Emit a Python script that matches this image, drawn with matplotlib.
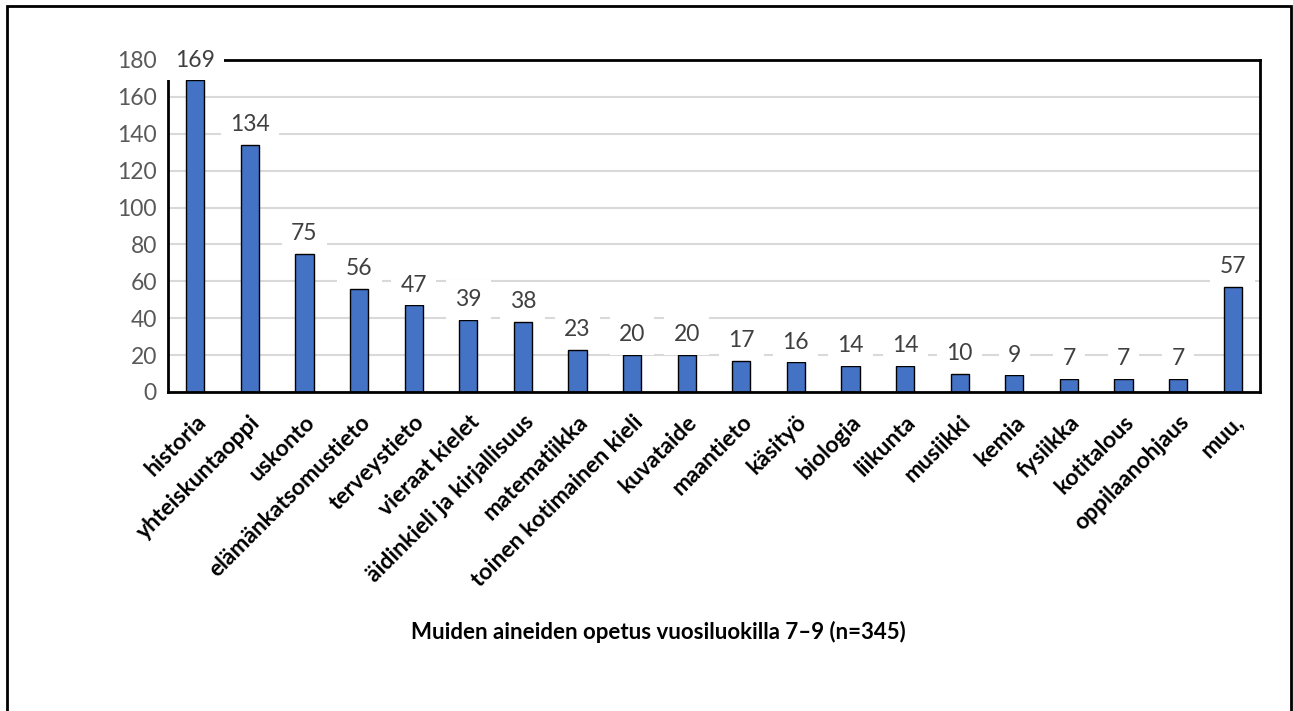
import matplotlib
matplotlib.use("Agg")
import matplotlib.pyplot as plt
from matplotlib.patches import Rectangle

categories = ["historia", "yhteiskuntaoppi", "uskonto", "elämänkatsomustieto", "terveystieto",
              "vieraat kielet", "äidinkieli ja kirjallisuus", "matematiikka", "toinen kotimainen kieli",
              "kuvataide", "maantieto", "käsityö", "biologia", "liikunta", "musiikki", "kemia",
              "fysiikka", "kotitalous", "oppilaanohjaus", "muu,"]
values = [169, 134, 75, 56, 47, 39, 38, 23, 20, 20, 17, 16, 14, 14, 10, 9, 7, 7, 7, 57]
yticks = [0, 20, 40, 60, 80, 100, 120, 140, 160, 180]
xlabel = "Muiden aineiden opetus vuosiluokilla 7–9 (n=345)"

plt.rcParams['font.family'] = ['Lato', 'DejaVu Sans']

W, H = 1293, 711
fig = plt.figure(figsize=(W / 100, H / 100), dpi=100)
fig.patch.set_facecolor("white")

# outer border
fig.add_artist(Rectangle((7 / W, -0.01), (1291 - 7) / W, (H - 6) / H + 0.01, transform=fig.transFigure,
                         fill=False, edgecolor="black", linewidth=2))

left, right, top, bottom = 168, 1260, 60, 392
ax = fig.add_axes([left / W, 1 - bottom / H, (right - left) / W, (bottom - top) / H])
x = list(range(len(categories)))
ax.bar(x, values, width=0.33, color="#4472C4", edgecolor="black", linewidth=1.0, zorder=3)
ax.set_xlim(-0.5, len(categories) - 0.5)
ax.set_ylim(0, 180)
ax.set_yticks(yticks)
ax.set_yticklabels([str(t) for t in yticks], fontsize=16.5, color="#595959")
ax.yaxis.grid(True, color="#D9D9D9", linewidth=1.5, zorder=0)
ax.set_axisbelow(True)
ax.tick_params(axis="both", length=0, pad=8)
for s in ax.spines.values():
    s.set_linewidth(2)
    s.set_color("black")
    s.set_zorder(5)
ax.set_xticks(x)
ax.set_xticklabels(categories, rotation=45, ha="right", rotation_mode="anchor",
                   fontsize=16.5, fontweight="bold", color="black")
ax.tick_params(axis="x", pad=14)

for xi, v in zip(x, values):
    ax.annotate(str(v), (xi, v), xytext=(0, 7), textcoords="offset points", ha="center", va="bottom",
                fontsize=16.5, color="#404040", zorder=6, clip_on=False,
                bbox=dict(boxstyle="square,pad=0.4", facecolor="white", edgecolor="none"))

fig.text(658 / W, 1 - 632 / H, xlabel, ha="center", va="center", fontsize=16, fontweight="bold")

fig.savefig("out.png", dpi=100, facecolor="white")
